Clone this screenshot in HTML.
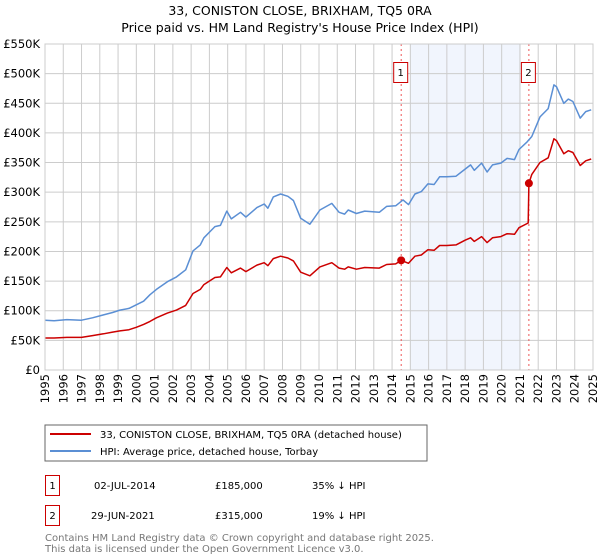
<!DOCTYPE html>
<html><head><meta charset="utf-8">
<style>
body{margin:0;background:#fff;font-family:"Liberation Sans","DejaVu Sans",sans-serif;}
svg{display:block}
</style></head>
<body>
<svg id="chart" width="600" height="560" xmlns="http://www.w3.org/2000/svg" font-family="DejaVu Sans, Liberation Sans, sans-serif">
<text x="300" y="15" text-anchor="middle" font-size="12.5">33, CONISTON CLOSE, BRIXHAM, TQ5 0RA</text>
<text x="300" y="32" text-anchor="middle" font-size="12.5">Price paid vs. HM Land Registry's House Price Index (HPI)</text>
<g id="plot"></g>
<rect x="45" y="425" width="382" height="36" fill="#fff" stroke="#666"/>
<line x1="50" y1="434" x2="91" y2="434" stroke="#cc0000" stroke-width="2"/>
<text x="100" y="438" font-size="10">33, CONISTON CLOSE, BRIXHAM, TQ5 0RA (detached house)</text>
<line x1="50" y1="451" x2="91" y2="451" stroke="#5b8fd4" stroke-width="2"/>
<text x="100" y="455" font-size="10">HPI: Average price, detached house, Torbay</text>
<g font-size="10">
<rect x="45.5" y="475.5" width="14" height="20" fill="none" stroke="#cc0000"/>
<text x="52.5" y="489" text-anchor="middle">1</text>
<text x="94" y="489">02-JUL-2014</text>
<text x="215" y="489">£185,000</text>
<text x="312" y="489">35% ↓ HPI</text>
<rect x="45.5" y="505.5" width="14" height="20" fill="none" stroke="#cc0000"/>
<text x="52.5" y="519" text-anchor="middle">2</text>
<text x="91" y="519">29-JUN-2021</text>
<text x="215" y="519">£315,000</text>
<text x="312" y="519">19% ↓ HPI</text>
</g>
<text x="45" y="541" font-size="10" fill="#777">Contains HM Land Registry data © Crown copyright and database right 2025.</text>
<text x="45" y="552" font-size="10" fill="#777">This data is licensed under the Open Government Licence v3.0.</text>
</svg>
<script>
const yTicks=[0,50,100,150,200,250,300,350,400,450,500,550];
const yTickLabels=["£0","£50K","£100K","£150K","£200K","£250K","£300K","£350K","£400K","£450K","£500K","£550K"];
const xYears=[1995,1996,1997,1998,1999,2000,2001,2002,2003,2004,2005,2006,2007,2008,2009,2010,2011,2012,2013,2014,2015,2016,2017,2018,2019,2020,2021,2022,2023,2024,2025];
const hpiDates=[1995.0,1995.5,1996.2,1997.0,1997.6,1998.2,1998.7,1999.1,1999.6,2000.0,2000.4,2000.75,2001.1,2001.7,2002.2,2002.7,2003.1,2003.5,2003.7,2004.3,2004.6,2004.95,2005.2,2005.7,2006.0,2006.6,2007.0,2007.2,2007.5,2007.9,2008.3,2008.6,2009.0,2009.5,2010.05,2010.7,2011.1,2011.4,2011.6,2012.05,2012.5,2013.3,2013.7,2014.2,2014.6,2014.9,2015.25,2015.6,2015.96,2016.3,2016.6,2017.0,2017.5,2018.0,2018.3,2018.5,2018.9,2019.2,2019.5,2019.95,2020.3,2020.7,2020.95,2021.4,2021.65,2022.1,2022.55,2022.86,2023.0,2023.4,2023.65,2023.9,2024.3,2024.6,2024.9];
const hpiValues=[84,83,85,84,88,93,97,101,104,110,116,127,136,149,157,169,201,211,223,242,244,268,255,266,258,274,280,273,292,297,293,286,256,246,270,281,266,263,270,264,268,266,276,277,287,279,297,301,314,313,326,326,327,339,346,337,349,334,346,349,357,355,372,385,394,427,441,481,478,450,457,453,425,436,439];
const priceDates=[1995.0,1995.5,1996.2,1997.0,1997.6,1998.2,1998.7,1999.1,1999.6,2000.0,2000.4,2000.75,2001.1,2001.7,2002.2,2002.7,2003.1,2003.5,2003.7,2004.3,2004.6,2004.95,2005.2,2005.7,2006.0,2006.6,2007.0,2007.2,2007.5,2007.9,2008.3,2008.6,2009.0,2009.5,2010.05,2010.7,2011.1,2011.4,2011.6,2012.05,2012.5,2013.3,2013.7,2014.2,2014.5,2014.9,2015.25,2015.6,2015.96,2016.3,2016.6,2017.0,2017.5,2018.0,2018.3,2018.5,2018.9,2019.2,2019.5,2019.95,2020.3,2020.7,2020.95,2021.45,2021.49,2021.65,2022.1,2022.55,2022.86,2023.0,2023.4,2023.65,2023.9,2024.3,2024.6,2024.9];
const priceValues=[54,54,55,55,58,61,64,66,68,72,77,82,88,96,101,109,129,136,144,156,157,173,164,172,166,177,181,176,188,192,189,184,165,159,174,181,172,170,174,170,173,172,178,179,185,180,192,194,203,202,210,210,211,219,223,217,225,215,223,225,230,229,240,248,315,330,350,358,390,387,365,370,367,345,353,356];
const saleDates=[2014.5,2021.49];
const saleValues=[185,315];
const saleLabels=["1","2"];
const shadeRange=[2015.0,2021.05];

const NS="http://www.w3.org/2000/svg";
const L=45,R=593,T=44,B=370;
const x=d=>L+(d-1995)/(2025-1995)*(R-L);
const y=v=>B-v/550*(B-T);
const g=document.getElementById('plot');
function mk(t,a){const e=document.createElementNS(NS,t);for(const k in a)e.setAttribute(k,a[k]);g.appendChild(e);return e;}
let e;
e=mk('rect',{x:x(shadeRange[0]),y:T,width:x(shadeRange[1])-x(shadeRange[0]),height:B-T,fill:'#eef3fc',opacity:0.8});


yTicks.forEach((v,i)=>{
  e=mk('line',{x1:L,x2:R,y1:y(v),y2:y(v),stroke:'#cccccc','stroke-width':1});
  
  
  e=mk('text',{x:40,y:y(v)+4,'text-anchor':'end','font-size':11.5});
  e.textContent=yTickLabels[i];
  
  
});
xYears.forEach(yr=>{
  e=mk('line',{x1:x(yr),x2:x(yr),y1:T,y2:B,stroke:'#cccccc','stroke-width':1});
  
  
  const tx=x(yr)+4, ty=374;
  e=mk('text',{x:tx,y:ty,'text-anchor':'end','font-size':11.5,transform:'rotate(-90 '+tx+' '+ty+')'});
  e.textContent=yr;
  
  
});
saleDates.forEach((d,i)=>{
  e=mk('line',{x1:x(d),x2:x(d),y1:T,y2:B,stroke:'#ee5555','stroke-width':1,'stroke-dasharray':'2,3'});
  
  
});
function path(ds,vs,col,name){
  let s='';ds.forEach((d,i)=>{s+=(i?'L':'M')+x(d).toFixed(1)+','+y(vs[i]).toFixed(1);});
  e=mk('path',{d:s,fill:'none',stroke:col,'stroke-width':1.5,'stroke-linejoin':'round'});
  
  
}
path(hpiDates,hpiValues,'#5b8fd4','hpi-line');
path(priceDates,priceValues,'#cc0000','price-paid-line');
saleDates.forEach((d,i)=>{
  e=mk('circle',{cx:x(d),cy:y(saleValues[i]),r:4,fill:'#cc0000'});
  
  
  const bx=x(d)-7;
  e=mk('rect',{x:bx-0.5,y:62.5,width:14,height:20,fill:'#fff',stroke:'#cc0000'});
  
  
  e=mk('text',{x:x(d)-0.5,y:76,'text-anchor':'middle','font-size':10});
  e.textContent=saleLabels[i];
  
  
});
e=mk('rect',{x:L,y:T,width:R-L,height:B-T,fill:'none',stroke:'#cccccc'});


</script>
</body></html>
